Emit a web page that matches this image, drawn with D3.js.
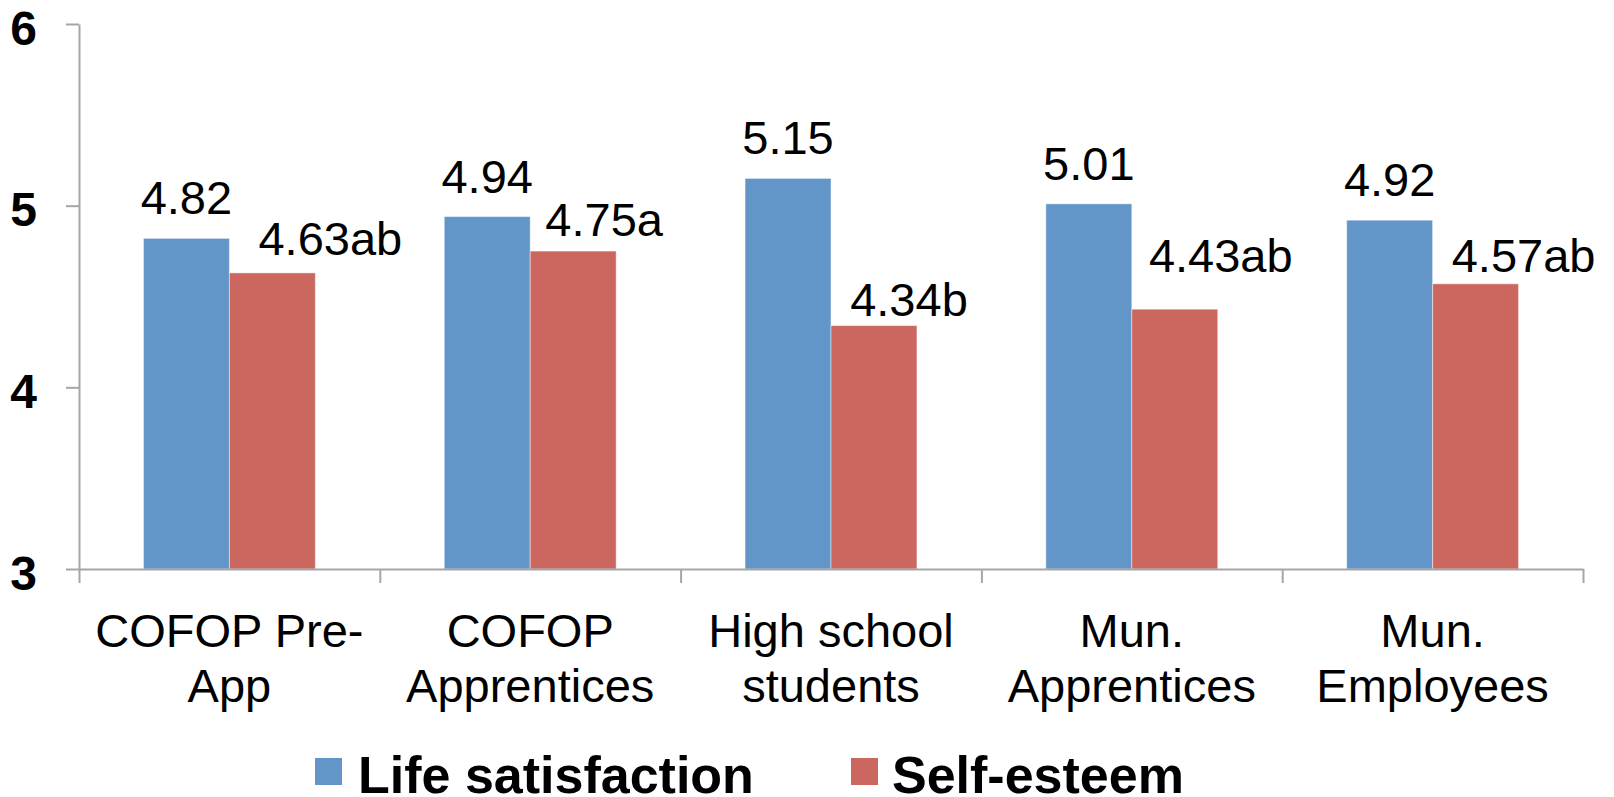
<!DOCTYPE html>
<html>
<head>
<meta charset="utf-8">
<script src="https://cdn.jsdelivr.net/npm/d3@7"></script>
<style>
  body { margin: 0; background: #fff; }
  svg { display: block; font-family: "Liberation Sans", Arial, sans-serif; }
</style>
</head>
<body>
<svg id="chart" width="1614" height="797"></svg>
<script>
// Data
const categories = [
  ["COFOP Pre-", "App"],
  ["COFOP", "Apprentices"],
  ["High school", "students"],
  ["Mun.", "Apprentices"],
  ["Mun.", "Employees"],
];
const seriesNames = ["Life satisfaction", "Self-esteem"];
const lifeSatisfaction = [4.82, 4.94, 5.15, 5.01, 4.92];
const selfEsteem = [4.63, 4.75, 4.34, 4.43, 4.57];
const selfEsteemLetters = ["ab", "a", "b", "ab", "ab"];
const yTicks = [3, 4, 5, 6];

// Layout
const colors = ["#6296c9", "#cc6760"];
const axisColor = "#a6a6a6";
const plot = { left: 79, right: 1583, top: 24, bottom: 569 };
// hand-placed self-esteem labels in the original (offset from bar centre / bar top)
const redLabelDx = [58, 31, 35, 46, 48];
const redLabelDy = [-18, -15, -10, -37, -12];

const svg = d3.select("#chart");

const catIdx = d3.range(categories.length);
const xScale = d3.scaleBand().domain(catIdx).range([plot.left, plot.right]);
const xSub = d3
  .scaleBand()
  .domain([0, 1])
  .range([0, xScale.bandwidth()])
  .paddingOuter(0.75);
const yScale = d3.scaleLinear().domain([3, 6]).range([plot.bottom, plot.top]);

// Bars
const rows = catIdx.map((i) => [lifeSatisfaction[i], selfEsteem[i]]);
const groups = svg
  .append("g")
  .selectAll("g")
  .data(rows)
  .join("g")
  .attr("transform", (_, i) => `translate(${xScale(i)},0)`);

groups
  .selectAll("rect")
  .data((d) => d)
  .join("rect")
  .attr("x", (_, j) => xSub(j))
  .attr("y", (d) => yScale(d))
  .attr("width", xSub.bandwidth())
  .attr("height", (d) => yScale(3) - yScale(d))
  .attr("fill", (_, j) => colors[j])
  .attr("stroke", "rgba(255,255,255,0.45)")
  .attr("stroke-width", 1);

// Value labels
svg
  .append("g")
  .selectAll("text")
  .data(lifeSatisfaction)
  .join("text")
  .attr("x", (_, i) => xScale(i) + xSub(0) + xSub.bandwidth() / 2)
  .attr("y", (d) => yScale(d) - 24)
  .attr("text-anchor", "middle")
  .style("font-size", "47px")
  .attr("fill", "#000")
  .text((d) => d3.format(".2f")(d));

svg
  .append("g")
  .selectAll("text")
  .data(selfEsteem)
  .join("text")
  .attr("x", (_, i) => xScale(i) + xSub(1) + xSub.bandwidth() / 2 + redLabelDx[i])
  .attr("y", (d, i) => yScale(d) + redLabelDy[i])
  .attr("text-anchor", "middle")
  .style("font-size", "47px")
  .attr("fill", "#000")
  .text((d, i) => d3.format(".2f")(d) + selfEsteemLetters[i]);

// Y axis
const yAxis = d3
  .axisLeft(yScale)
  .tickValues(yTicks)
  .tickSize(13)
  .tickSizeOuter(0)
  .tickPadding(29)
  .tickFormat(d3.format("d"));
const yG = svg
  .append("g")
  .attr("transform", `translate(${plot.left},0)`)
  .call(yAxis);
yG.selectAll(".domain, .tick line")
  .attr("stroke", axisColor)
  .attr("stroke-width", 2);
yG.selectAll(".tick text")
  .attr("dy", "0.42em")
  .attr("fill", "#000")
  .style("font-size", "48px")
  .style("font-weight", "bold")
  .style("font-family", '"Liberation Sans", Arial, sans-serif');

// X axis: ticks at category boundaries
const xEdge = d3
  .scaleLinear()
  .domain([0, categories.length])
  .range([plot.left, plot.right]);
const xG = svg
  .append("g")
  .attr("transform", `translate(0,${plot.bottom})`)
  .call(
    d3
      .axisBottom(xEdge)
      .tickValues(d3.range(categories.length + 1))
      .tickSize(14)
      .tickSizeOuter(0)
      .tickFormat("")
  );
xG.selectAll(".domain, .tick line")
  .attr("stroke", axisColor)
  .attr("stroke-width", 2);

// Category labels
svg
  .append("g")
  .selectAll("text")
  .data(categories)
  .join("text")
  .attr("x", (_, i) => xScale(i) + xScale.bandwidth() / 2)
  .attr("y", 647)
  .attr("text-anchor", "middle")
  .style("font-size", "47px")
  .attr("fill", "#000")
  .selectAll("tspan")
  .data((d) => d)
  .join("tspan")
  .attr("x", function () {
    return d3.select(this.parentNode).attr("x");
  })
  .attr("dy", (_, k) => (k ? 55 : 0))
  .text((d) => d);

// Legend
const legendX = [315, 851];
const legend = svg
  .append("g")
  .selectAll("g")
  .data(seriesNames)
  .join("g")
  .attr("transform", (_, i) => `translate(${legendX[i]},758)`);
legend
  .append("rect")
  .attr("width", 27)
  .attr("height", 27)
  .attr("fill", (_, i) => colors[i]);
legend
  .append("text")
  .attr("x", (_, i) => (i ? 41 : 43))
  .attr("y", 35)
  .style("font-size", "52px")
  .style("font-weight", "bold")
  .attr("fill", "#000")
  .text((d) => d);
</script>
</body>
</html>
